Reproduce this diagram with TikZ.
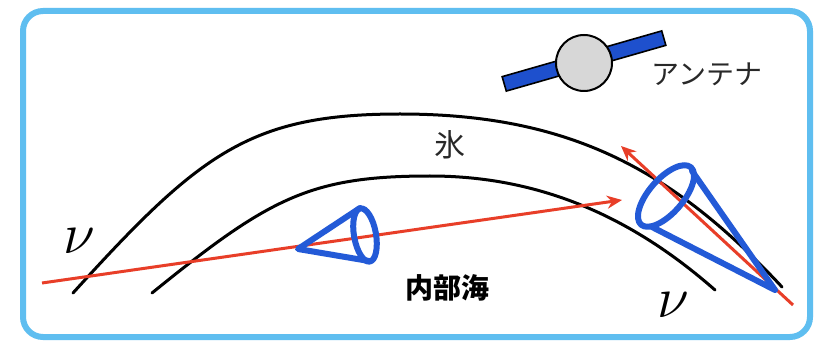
\RequirePackage{fix-cm}
\documentclass[tikz,border=0pt]{standalone}
\usepackage{fontspec}
\usetikzlibrary{arrows.meta}
\newfontfamily\cjk{Noto Sans CJK JP}
\definecolor{framecol}{RGB}{95,190,240}
\definecolor{raycol}{RGB}{232,62,40}
\definecolor{conecol}{RGB}{35,90,215}
\definecolor{panelcol}{RGB}{30,80,205}
\definecolor{bodycol}{RGB}{215,215,215}
\definecolor{textcol}{RGB}{40,40,40}
\tikzset{
  frame/.style={draw=framecol, line width=6pt, rounded corners=20pt},
  shell/.style={draw=black, line width=3pt, line cap=round},
  ray/.style={draw=raycol, line width=3pt, -{Stealth[length=15pt,width=13pt]}},
  cone/.style={draw=conecol, line width=6pt, line join=round, line cap=round},
  label/.style={inner sep=0pt, text=textcol},
  nu/.style={inner sep=0pt, font=\fontsize{58}{58}\selectfont},
}
\begin{document}
\begin{tikzpicture}[x=1pt,y=-1pt]
\useasboundingbox (0,0) rectangle (818,347);
\fill[white] (0,0) rectangle (818,347);

% rounded outer frame
\draw[frame] (23,11) rectangle (810,337);

% ice shell: outer and inner surfaces
\draw[shell] (73,293) .. controls (200,153) and (250,114) .. (400,114)
                      .. controls (570,114) and (673,170) .. (782,287);
\draw[shell] (152,293) .. controls (269,198) and (310,176) .. (430,176)
                       .. controls (540,176) and (632,217) .. (715,290);

% neutrino tracks
\coordinate (r1s) at (42,283);
\coordinate (r1e) at (622,200);
\coordinate (r2s) at (793,305);
\coordinate (r2e) at (621,146);
\draw[ray] (r1s) -- (r1e);
\draw[ray] (r2s) -- (r2e);

% small cone in the ocean
\coordinate (c1a) at (298,249);
\coordinate (c1t) at (360,208);
\coordinate (c1b) at (369,261);
\draw[cone] (c1t) -- (c1a) -- (c1b);
\draw[cone, rotate around={10:(365,235)}] (365,235) ellipse [x radius=11pt, y radius=27pt];

% large cone near the surface
\coordinate (c2a) at (775,290);
\coordinate (c2t) at (692,171);
\coordinate (c2b) at (652,227);
\draw[cone] (c2t) -- (c2a) -- (c2b);
\draw[cone, rotate around={49:(666,196)}] (666,196) ellipse [x radius=38pt, y radius=17pt];

% antenna satellite
\draw[fill=panelcol, line width=1.6pt, rotate around={16:(584,61)}]
  (501,53.5) rectangle (667,68.5);
\node[circle, draw=black, fill=bodycol, line width=2pt, minimum size=56pt, inner sep=0pt]
  (body) at (584,63) {};

% labels
\node[label, font=\cjk\fontsize{28}{28}\selectfont] (ant) at (707,74) {アンテナ};
\node[label, font=\cjk\fontsize{31}{31}\selectfont] (ice) at (450,145) {氷};
\node[inner sep=0pt, font=\cjk\bfseries\fontsize{28}{28}\selectfont] (sea) at (447,288) {内部海};
\node[nu] (nu1) at (79,241) {$\nu$};
\node[nu] (nu2) at (673,305) {$\nu$};
\end{tikzpicture}
\end{document}
